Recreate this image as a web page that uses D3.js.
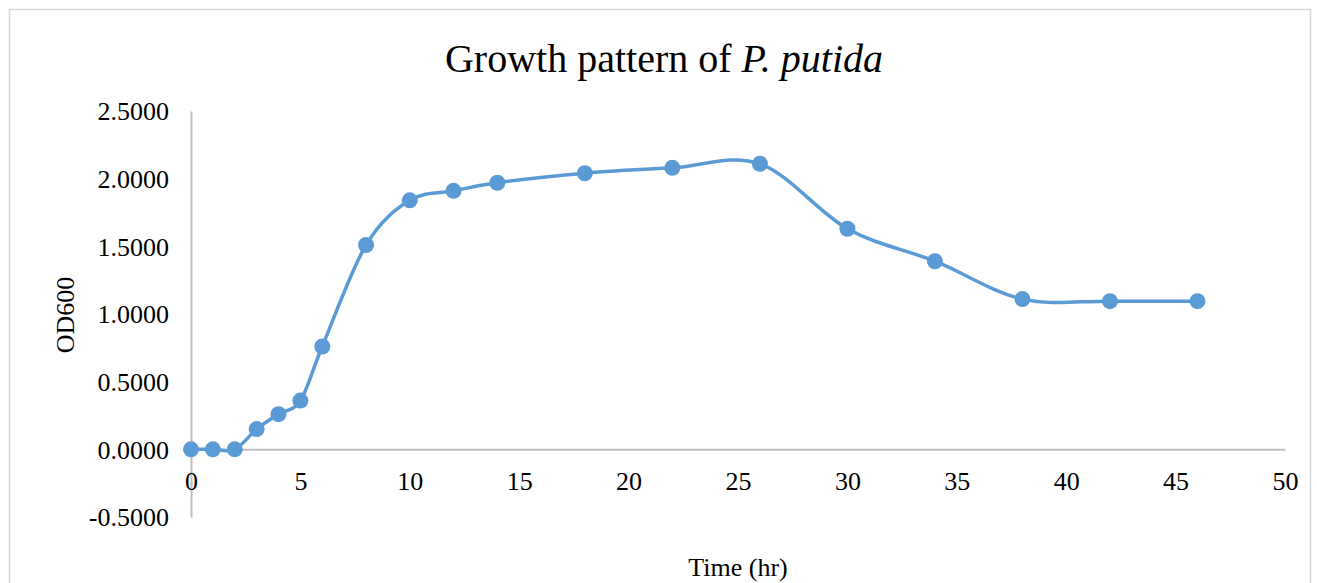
<!DOCTYPE html>
<html>
<head>
<meta charset="utf-8">
<script src="https://cdn.jsdelivr.net/npm/d3@7"></script>
<style>
  body { margin: 0; background: #fff; }
  svg text { font-family: "Liberation Serif", "Times New Roman", serif; fill: #000; }
</style>
</head>
<body>
<div id="chart"></div>
<script>
// Time points (hr) and OD600 readings
const times = [0, 1, 2, 3, 4, 5, 6, 8, 10, 12, 14, 18, 22, 26, 30, 34, 38, 42, 46];
const od600 = [0, 0, 0, 0.15, 0.26, 0.36, 0.76, 1.51, 1.84, 1.91, 1.97, 2.04, 2.08, 2.11, 1.63, 1.39, 1.11, 1.095, 1.095];
const xTicks = [0, 5, 10, 15, 20, 25, 30, 35, 40, 45, 50];
const yTicks = [-0.5, 0, 0.5, 1.0, 1.5, 2.0, 2.5];

const data = times.map((t, i) => ({t, v: od600[i]}));

const W = 1317, H = 583;
const margin = {top: 111, right: 32, bottom: 66, left: 191};

const svg = d3.select("#chart").append("svg")
    .attr("width", W)
    .attr("height", H);

// chart area border
svg.append("rect")
    .attr("x", 9.5).attr("y", 9.5)
    .attr("width", 1301).attr("height", 600)
    .attr("fill", "none")
    .attr("stroke", "#d9d9d9")
    .attr("stroke-width", 1.5);

const x = d3.scaleLinear().domain([0, 50]).range([margin.left, W - margin.right]);
const y = d3.scaleLinear().domain([-0.5, 2.5]).range([H - margin.bottom, margin.top]);

const fmt = d3.format(".4f");

// y axis (vertical line at x=0)
const yAxis = svg.append("g")
    .attr("transform", `translate(${x(0)},0)`)
    .call(d3.axisLeft(y).tickValues(yTicks).tickSize(0).tickFormat(d => fmt(d).replace("\u2212", "-")));
yAxis.select(".domain").attr("stroke", "#bfbfbf").attr("stroke-width", 2);
yAxis.selectAll("text")
    .attr("x", -22)
    .attr("dy", "0.34em")
    .style("font-size", "26px");

// x axis crosses at y=0
const xAxis = svg.append("g")
    .attr("transform", `translate(0,${y(0)})`)
    .call(d3.axisBottom(x).tickValues(xTicks).tickSize(0));
xAxis.select(".domain").attr("stroke", "#bfbfbf").attr("stroke-width", 2);
xAxis.selectAll("text")
    .attr("y", 22)
    .attr("dy", "0.71em")
    .style("font-size", "26px");

// smoothed line
const line = d3.line()
    .x(d => x(d.t))
    .y(d => y(d.v))
    .curve(d3.curveCardinal.tension(0));

svg.append("path")
    .datum(data)
    .attr("d", line)
    .attr("fill", "none")
    .attr("stroke", "#5b9bd5")
    .attr("stroke-width", 3.5);

svg.selectAll(".dot")
    .data(data)
    .join("circle")
    .attr("class", "dot")
    .attr("cx", d => x(d.t))
    .attr("cy", d => y(d.v))
    .attr("r", 8)
    .attr("fill", "#5b9bd5");

// title
const title = svg.append("text")
    .attr("x", 664)
    .attr("y", 72)
    .attr("text-anchor", "middle")
    .style("font-size", "40px");
title.append("tspan").text("Growth pattern of ");
title.append("tspan").style("font-style", "italic").text("P. putida");

// axis titles
svg.append("text")
    .attr("transform", `translate(74,${315}) rotate(-90)`)
    .attr("text-anchor", "middle")
    .style("font-size", "26px")
    .text("OD600");

svg.append("text")
    .attr("x", 738)
    .attr("y", 576)
    .attr("text-anchor", "middle")
    .style("font-size", "26px")
    .text("Time (hr)");
</script>
</body>
</html>
